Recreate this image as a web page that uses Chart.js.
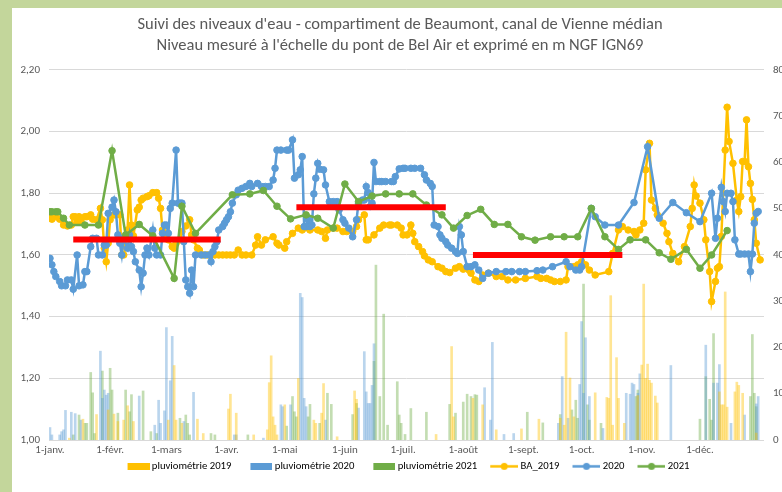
<!DOCTYPE html>
<html lang="fr">
<head>
<meta charset="utf-8">
<title>Niveaux d'eau - Beaumont</title>
<script src="https://cdn.jsdelivr.net/npm/chart.js@4/dist/chart.umd.min.js"></script>
<style>
    body { margin: 0; background: #c3d69b; }
    #cadre { position: absolute; left: 12px; top: 8px; width: 770px; height: 484px; background: #fff; overflow: hidden; }
    #graphique { display: block; }
</style>
</head>
<body>
<div id="cadre"><canvas id="graphique" width="790" height="484"></canvas></div>
<script>
// axe des dates : jour de l'année (0 = 1er janvier)
const moisJours = [0, 31, 60, 91, 121, 152, 182, 213, 244, 274, 305, 335];
const moisLabels = ['1-janv.', '1-févr.', '1-mars', '1-avr.', '1-mai', '1-juin', '1-juil.', '1-août', '1-sept.', '1-oct.', '1-nov.', '1-déc.'];

// niveaux mesurés (m NGF)
const joursBA2019 = [0, 1, 3, 5, 7, 9, 11, 12, 13, 14, 15, 16, 18, 19, 21, 22, 24, 26, 27, 28, 29, 30, 31, 33, 34, 36, 37, 38, 39, 40, 41, 42, 43, 45, 46, 47, 48, 50, 51, 53, 55, 56, 57, 58, 59, 60, 61, 63, 64, 65, 67, 68, 70, 72, 73, 74, 76, 77, 79, 81, 83, 85, 87, 89, 91, 93, 95, 97, 99, 101, 104, 106, 107, 109, 111, 115, 117, 118, 121, 122, 125, 128, 130, 134, 138, 140, 142, 143, 146, 148, 151, 153, 156, 158, 159, 162, 163, 164, 167, 170, 172, 175, 176, 179, 181, 182, 184, 186, 187, 188, 190, 192, 193, 195, 197, 200, 202, 204, 206, 209, 211, 213, 216, 217, 219, 221, 223, 226, 230, 233, 236, 240, 245, 251, 253, 256, 258, 260, 263, 266, 267, 270, 272, 274, 276, 278, 281, 288, 290, 293, 295, 298, 301, 302, 304, 306, 307, 309, 310, 312, 313, 316, 318, 319, 321, 324, 327, 330, 331, 332, 333, 335, 337, 338, 340, 341, 343, 344, 345, 346, 348, 349, 350, 352, 354, 355, 356, 357, 358, 359, 360, 361, 362, 363, 364, 366];
const niveauxBA2019 = [1.72, 1.716, 1.724, 1.716, 1.697, 1.694, 1.697, 1.724, 1.724, 1.708, 1.724, 1.708, 1.724, 1.724, 1.73, 1.716, 1.714, 1.751, 1.714, 1.622, 1.578, 1.638, 1.714, 1.73, 1.73, 1.73, 1.60, 1.60, 1.627, 1.681, 1.827, 1.697, 1.662, 1.746, 1.755, 1.778, 1.784, 1.789, 1.792, 1.802, 1.802, 1.784, 1.751, 1.681, 1.67, 1.662, 1.649, 1.627, 1.622, 1.638, 1.649, 1.676, 1.694, 1.714, 1.665, 1.649, 1.622, 1.616, 1.60, 1.60, 1.60, 1.60, 1.60, 1.60, 1.60, 1.60, 1.60, 1.616, 1.60, 1.60, 1.60, 1.632, 1.659, 1.632, 1.649, 1.659, 1.638, 1.632, 1.622, 1.643, 1.67, 1.687, 1.681, 1.681, 1.681, 1.676, 1.654, 1.681, 1.687, 1.687, 1.676, 1.676, 1.676, 1.692, 1.714, 1.73, 1.649, 1.649, 1.665, 1.687, 1.697, 1.697, 1.697, 1.697, 1.687, 1.665, 1.665, 1.697, 1.67, 1.643, 1.627, 1.611, 1.597, 1.584, 1.578, 1.562, 1.557, 1.546, 1.543, 1.557, 1.562, 1.554, 1.551, 1.541, 1.519, 1.514, 1.535, 1.541, 1.53, 1.53, 1.519, 1.519, 1.524, 1.53, 1.524, 1.524, 1.519, 1.514, 1.514, 1.519, 1.562, 1.562, 1.568, 1.578, 1.568, 1.551, 1.535, 1.546, 1.605, 1.681, 1.692, 1.681, 1.676, 1.665, 1.681, 1.703, 1.876, 1.962, 1.778, 1.751, 1.73, 1.703, 1.67, 1.643, 1.605, 1.578, 1.627, 1.692, 1.751, 1.827, 1.791, 1.768, 1.714, 1.649, 1.546, 1.449, 1.514, 1.557, 1.562, 1.66, 1.94, 2.079, 1.968, 1.897, 1.778, 1.741, 1.789, 1.903, 1.903, 2.038, 1.886, 1.832, 1.78, 1.714, 1.638, 1.584];

const jours2020 = [0, 1, 2, 3, 5, 6, 8, 9, 11, 12, 14, 15, 17, 18, 19, 21, 22, 24, 25, 27, 28, 29, 30, 32, 33, 34, 35, 36, 37, 38, 40, 41, 42, 43, 44, 46, 47, 48, 49, 50, 51, 53, 54, 55, 57, 58, 59, 60, 61, 62, 63, 65, 66, 67, 68, 69, 70, 71, 72, 73, 74, 75, 78, 80, 82, 83, 84, 85, 86, 87, 89, 90, 91, 92, 93, 94, 96, 97, 99, 101, 103, 104, 107, 109, 111, 113, 115, 116, 117, 119, 122, 123, 125, 126, 128, 129, 130, 131, 132, 133, 134, 135, 136, 137, 138, 139, 141, 142, 144, 146, 148, 149, 151, 152, 154, 156, 158, 159, 161, 162, 163, 164, 165, 166, 167, 168, 170, 171, 173, 176, 177, 178, 180, 182, 183, 186, 188, 191, 193, 194, 196, 197, 198, 200, 201, 202, 204, 205, 207, 209, 210, 211, 212, 213, 215, 217, 219, 221, 223, 226, 230, 235, 238, 242, 245, 251, 254, 259, 266, 268, 271, 273, 274, 279, 281, 286, 293, 301, 308, 314, 321, 328, 335, 341, 343, 344, 346, 347, 348, 349, 351, 352, 353, 355, 356, 358, 360, 361, 362, 363, 364, 365];
const niveaux2020 = [1.589, 1.568, 1.546, 1.53, 1.514, 1.50, 1.50, 1.519, 1.519, 1.489, 1.60, 1.50, 1.503, 1.546, 1.546, 1.627, 1.654, 1.654, 1.60, 1.60, 1.632, 1.632, 1.735, 1.755, 1.778, 1.74, 1.665, 1.638, 1.60, 1.654, 1.622, 1.665, 1.627, 1.611, 1.578, 1.551, 1.497, 1.541, 1.60, 1.622, 1.60, 1.681, 1.622, 1.60, 1.60, 1.67, 1.697, 1.697, 1.67, 1.751, 1.768, 1.94, 1.768, 1.768, 1.768, 1.643, 1.519, 1.497, 1.476, 1.551, 1.497, 1.60, 1.60, 1.60, 1.60, 1.578, 1.611, 1.627, 1.643, 1.681, 1.692, 1.703, 1.714, 1.724, 1.74, 1.768, 1.795, 1.81, 1.816, 1.822, 1.832, 1.822, 1.832, 1.822, 1.822, 1.822, 1.843, 1.881, 1.94, 1.94, 1.94, 1.94, 1.973, 1.849, 1.86, 1.876, 1.919, 1.692, 1.692, 1.714, 1.692, 1.697, 1.798, 1.849, 1.897, 1.878, 1.876, 1.827, 1.773, 1.773, 1.773, 1.746, 1.714, 1.703, 1.687, 1.659, 1.714, 1.768, 1.778, 1.778, 1.822, 1.802, 1.757, 1.768, 1.90, 1.838, 1.838, 1.838, 1.838, 1.838, 1.838, 1.854, 1.879, 1.881, 1.881, 1.881, 1.881, 1.881, 1.86, 1.843, 1.832, 1.822, 1.697, 1.692, 1.665, 1.654, 1.643, 1.632, 1.622, 1.611, 1.605, 1.692, 1.665, 1.611, 1.562, 1.562, 1.568, 1.551, 1.524, 1.541, 1.546, 1.546, 1.546, 1.546, 1.546, 1.549, 1.551, 1.562, 1.578, 1.562, 1.551, 1.551, 1.562, 1.751, 1.724, 1.697, 1.697, 1.77, 1.951, 1.719, 1.77, 1.737, 1.708, 1.80, 1.654, 1.719, 1.819, 1.773, 1.741, 1.80, 1.80, 1.773, 1.649, 1.603, 1.603, 1.603, 1.603, 1.546, 1.603, 1.703, 1.735, 1.741];

const jours2021 = [0, 1, 3, 4, 7, 10, 18, 25, 32, 39, 46, 53, 64, 68, 75, 94, 103, 110, 117, 124, 132, 138, 146, 152, 159, 166, 173, 180, 187, 194, 202, 208, 215, 222, 229, 236, 243, 250, 258, 265, 272, 279, 286, 293, 299, 307, 314, 320, 328, 335, 341, 349];
const niveaux2021 = [1.74, 1.74, 1.74, 1.74, 1.719, 1.697, 1.697, 1.697, 1.938, 1.665, 1.699, 1.662, 1.524, 1.758, 1.67, 1.795, 1.798, 1.809, 1.758, 1.717, 1.73, 1.719, 1.687, 1.83, 1.773, 1.791, 1.798, 1.798, 1.798, 1.762, 1.73, 1.687, 1.728, 1.748, 1.699, 1.699, 1.659, 1.648, 1.659, 1.659, 1.659, 1.751, 1.659, 1.618, 1.649, 1.649, 1.607, 1.586, 1.618, 1.557, 1.60, 1.679];

// pluviométrie journalière (mm), jours de pluie seulement
const joursPluie2019 = [10, 17, 24, 30, 33, 35, 38, 40, 43, 61, 64, 65, 68, 76, 79, 92, 93, 96, 105, 112, 113, 114, 115, 116, 117, 121, 128, 136, 137, 140, 141, 148, 157, 158, 199, 207, 208, 218, 223, 230, 243, 252, 263, 265, 266, 268, 270, 281, 287, 288, 289, 290, 292, 293, 296, 303, 305, 306, 307, 308, 309, 310, 312, 313, 345, 346, 347, 348, 349, 353, 354, 355, 357, 364];
const pluie2019 = [0.4, 4.5, 5.5, 6.5, 5.6, 4, 4.3, 7.4, 4, 4.3, 16.1, 4.3, 3.6, 4.5, 1.4, 6.7, 9.9, 5.8, 1.1, 2.2, 12.4, 18.2, 5, 3.2, 1.1, 7.6, 13.3, 4.3, 3.6, 5.8, 12.2, 0.7, 10.6, 8.8, 1.2, 20.2, 5, 9, 7.6, 2.2, 2.4, 4.5, 4.7, 3.2, 23.3, 13.4, 5, 10.2, 9.2, 9, 31.2, 3.2, 17.8, 9, 3.6, 9.6, 16.2, 33.7, 13.3, 16.4, 12.9, 12.3, 9.5, 8, 10.4, 7.6, 7.6, 32, 7.1, 10.4, 12.5, 11.8, 10.1, 1.5];

const joursPluie2020 = [0, 1, 5, 6, 7, 8, 11, 13, 16, 26, 27, 28, 29, 30, 46, 54, 56, 57, 59, 60, 62, 63, 69, 74, 95, 96, 110, 119, 120, 124, 129, 130, 131, 132, 142, 159, 162, 163, 164, 165, 166, 167, 224, 227, 228, 234, 239, 262, 264, 267, 273, 274, 275, 276, 278, 285, 297, 299, 300, 301, 303, 304, 320, 338, 342, 344, 345, 351, 358, 364, 365];
const pluie2020 = [2.7, 1.1, 1.1, 1.8, 2.2, 6.4, 6, 5.7, 4.3, 19.2, 9, 10.8, 9.7, 10.1, 9.5, 3.2, 8.6, 3.6, 6.3, 24.3, 12.8, 22.4, 4, 10.3, 1.1, 1.1, 0.4, 7.6, 7.2, 7.6, 31.7, 30.8, 9, 7.2, 4.3, 6.9, 19.1, 10.4, 7.9, 7.9, 11.8, 20.8, 11.3, 4.3, 21.1, 1.2, 1.4, 3.6, 13.7, 4.7, 12, 25.6, 10.1, 22.1, 9.4, 2.5, 10.1, 9.9, 12.3, 12, 10.1, 14.3, 16.1, 20.5, 12.3, 12.3, 16.3, 3.6, 5.4, 7.8, 9.4];

const joursPluie2021 = [12, 15, 18, 19, 21, 22, 23, 27, 31, 32, 35, 39, 41, 42, 48, 52, 55, 67, 70, 71, 72, 83, 85, 102, 122, 125, 126, 127, 133, 134, 139, 143, 145, 156, 158, 167, 168, 170, 172, 174, 179, 180, 181, 183, 186, 194, 206, 209, 213, 215, 217, 219, 220, 246, 254, 263, 269, 271, 272, 275, 277, 278, 284, 302, 303, 335, 338, 340, 341, 342, 361, 362, 363, 364];
const pluie2021 = [1.1, 5.4, 3.6, 3.6, 14.6, 10.2, 1.4, 14.9, 15.5, 10.8, 5.8, 10.8, 6.1, 9.8, 10.6, 1.8, 1.4, 4.7, 5.4, 3.6, 1.1, 1.4, 1.1, 1.1, 3, 9.4, 6.1, 5, 5, 7.7, 3.6, 10.1, 7.7, 5.5, 7.9, 17, 37.8, 9.4, 27.2, 3.2, 12.6, 5.4, 3.6, 1.2, 6.8, 6, 7.7, 5.8, 8.2, 9.9, 9.4, 9.8, 9.7, 6, 3.7, 5.5, 6.5, 8.6, 4.7, 33.7, 7.6, 4.3, 3.6, 9.4, 10.8, 4.5, 13.7, 8.8, 4.3, 23, 9.4, 22.8, 10.1, 7.2];

// niveaux de consigne par période
const debutsConsigne = [12, 127, 218];
const finsConsigne = [88, 204, 295];
const niveauxConsigne = [1.65, 1.755, 1.60];

const JAUNE = '#ffc000';
const BLEU = '#5b9bd5';
const VERT = '#70ad47';
const GRIS = '#595959';

Chart.defaults.font.family = "Carlito, 'DejaVu Sans Condensed', sans-serif";
Chart.defaults.font.size = 11;
Chart.defaults.color = GRIS;

function points(jours, valeurs) {
    return jours.map((j, i) => ({ x: j, y: valeurs[i] }));
}

function serieNiveau(label, jours, valeurs, couleur, ordre) {
    return {
        type: 'line',
        label: label,
        data: points(jours, valeurs),
        yAxisID: 'y',
        borderColor: couleur,
        backgroundColor: couleur,
        borderWidth: 2.5,
        pointRadius: 3.3,
        pointBorderWidth: 1,
        tension: 0,
        order: ordre
    };
}

function seriePluie(label, jours, valeurs, couleur) {
    return {
        type: 'bar',
        label: label,
        data: points(jours, valeurs),
        yAxisID: 'yPluie',
        backgroundColor: couleur,
        barThickness: 2,
        grouped: false,
        order: 10
    };
}

function serieConsigne(i) {
    return {
        type: 'line',
        label: 'consigne',
        data: [
            { x: debutsConsigne[i], y: niveauxConsigne[i] },
            { x: finsConsigne[i], y: niveauxConsigne[i] }
        ],
        yAxisID: 'y',
        borderColor: '#ff0000',
        borderWidth: 6,
        borderCapStyle: 'butt',
        pointRadius: 0,
        order: 0
    };
}

// icônes de légende : 42 px de large, le motif collé à droite
function iconeBarre(couleur) {
    const c = document.createElement('canvas');
    c.width = 42;
    c.height = 7;
    const g = c.getContext('2d');
    g.fillStyle = couleur;
    g.fillRect(20, 0, 22, 7);
    return c;
}

function iconeLigne(couleur) {
    const c = document.createElement('canvas');
    c.width = 42;
    c.height = 9;
    const g = c.getContext('2d');
    g.strokeStyle = couleur;
    g.fillStyle = couleur;
    g.lineWidth = 2.5;
    g.beginPath();
    g.moveTo(14, 4.5);
    g.lineTo(42, 4.5);
    g.stroke();
    g.beginPath();
    g.arc(28, 4.5, 3.5, 0, Math.PI * 2);
    g.fill();
    return c;
}

const datasets = [
    seriePluie('pluviométrie 2019', joursPluie2019, pluie2019, 'rgba(255, 192, 0, 0.42)'),
    seriePluie('pluviométrie 2020', joursPluie2020, pluie2020, 'rgba(91, 155, 213, 0.42)'),
    seriePluie('pluviométrie 2021', joursPluie2021, pluie2021, 'rgba(112, 173, 71, 0.42)'),
    serieNiveau('BA_2019', joursBA2019, niveauxBA2019, JAUNE, 3),
    serieNiveau('2020', jours2020, niveaux2020, BLEU, 2),
    serieNiveau('2021', jours2021, niveaux2021, VERT, 1),
    serieConsigne(0),
    serieConsigne(1),
    serieConsigne(2)
];

const icones = [
    iconeBarre(JAUNE), iconeBarre(BLEU), iconeBarre(VERT),
    iconeLigne(JAUNE), iconeLigne(BLEU), iconeLigne(VERT)
];

new Chart(document.getElementById('graphique'), {
    type: 'line',
    data: { datasets: datasets },
    options: {
        responsive: false,
        animation: false,
        layout: { padding: { left: 0, right: 14, top: 0, bottom: 10.3 } },
        plugins: {
            title: {
                display: true,
                text: [
                    'Suivi des niveaux d\'eau - compartiment de Beaumont, canal de Vienne médian',
                    'Niveau mesuré à l\'échelle du pont de Bel Air et exprimé en m NGF IGN69'
                ],
                color: GRIS,
                font: { size: 16.5, weight: 'normal', lineHeight: 1.27 },
                padding: { top: 6.5, bottom: 13.5 }
            },
            legend: {
                position: 'bottom',
                labels: {
                    usePointStyle: true,
                    pointStyleWidth: 36,
                    padding: 2,
                    color: GRIS,
                    font: { size: 10.7 },
                    generateLabels: () => icones.map((icone, i) => ({
                        text: datasets[i].label,
                        pointStyle: icone,
                        fillStyle: 'transparent',
                        strokeStyle: 'transparent',
                        lineWidth: 0,
                        hidden: false,
                        datasetIndex: i
                    }))
                }
            },
            tooltip: { enabled: false }
        },
        scales: {
            x: {
                type: 'linear',
                min: -0.5,
                max: 368,
                offset: false,
                grid: { display: false, drawTicks: false },
                border: { display: false },
                afterBuildTicks: (scale) => {
                    scale.ticks = moisJours.map(v => ({ value: v }));
                },
                afterFit: (scale) => {
                    scale.height = 19;
                },
                ticks: {
                    autoSkip: false,
                    maxRotation: 0,
                    padding: 4,
                    callback: (value, index) => moisLabels[index]
                }
            },
            y: {
                position: 'left',
                min: 1,
                max: 2.2,
                grid: { color: '#d9d9d9', drawTicks: false },
                border: { display: false },
                afterFit: (scale) => {
                    scale.width = 37;
                },
                ticks: {
                    stepSize: 0.2,
                    padding: 9,
                    callback: (value) => value.toFixed(2).replace('.', ',')
                }
            },
            yPluie: {
                position: 'right',
                min: 0,
                max: 80,
                grid: { display: false, drawTicks: false },
                border: { display: false },
                afterFit: (scale) => {
                    scale.width = 24;
                },
                ticks: {
                    stepSize: 10,
                    padding: 9
                }
            }
        }
    }
});
</script>
</body>
</html>
